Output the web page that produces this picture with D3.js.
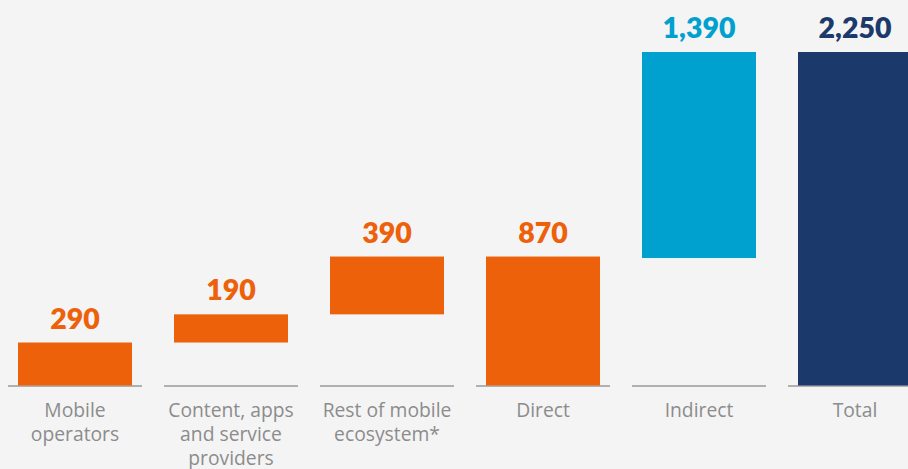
<!DOCTYPE html>
<html><head><meta charset="utf-8">
<script src="https://cdn.jsdelivr.net/npm/d3@7"></script>
<style>html,body{margin:0;padding:0;background:#f4f4f4;}svg{display:block;}</style>
</head><body>
<script>
const categories = [["Mobile","operators"],["Content, apps","and service","providers"],["Rest of mobile","ecosystem*"],["Direct"],["Indirect"],["Total"]];
const values = [290, 190, 390, 870, 1390, 2250];
const labels = ["290","190","390","870","1,390","2,250"];
const kinds = ["step","step","step","sum","step2","total"];
const colors = ["#ec610a","#ec610a","#ec610a","#ec610a","#00a0cf","#1b3a6b"];

const W = 908, H = 469;
const svg = d3.select("body").append("svg").attr("width", W).attr("height", H);
svg.append("rect").attr("width", W).attr("height", H).attr("fill", "#f4f4f4");

const bars = [];
let run = 0;
values.forEach((v, i) => {
  let y0, y1;
  if (kinds[i] === "step") { y0 = run; y1 = run + v; run = y1; }
  else if (kinds[i] === "sum") { y0 = 0; y1 = v; run = v; }
  else if (kinds[i] === "step2") { y1 = values[5]; y0 = values[5] - v; }
  else { y0 = 0; y1 = v; }
  bars.push({i, y0, y1});
});

const x = d3.scaleBand().domain(d3.range(categories.length)).range([-3, 933]).padding(0);
const y = d3.scaleLinear().domain([0, 2250]).range([385.5, 52]);
const bw = x.bandwidth();
const barW = 114, lineW = 134;

const g = svg.append("g");
g.selectAll("line.base").data(bars).enter().append("line")
  .attr("x1", d => x(d.i) + bw/2 - lineW/2)
  .attr("x2", d => x(d.i) + bw/2 + lineW/2)
  .attr("y1", y(0) + 0.5).attr("y2", y(0) + 0.5)
  .attr("stroke", "#9a9a9a").attr("stroke-width", 1.6);

g.selectAll("rect.bar").data(bars).enter().append("rect")
  .attr("x", d => x(d.i) + bw/2 - barW/2)
  .attr("width", barW)
  .attr("y", d => y(d.y1))
  .attr("height", d => y(d.y0) - y(d.y1))
  .attr("fill", d => colors[d.i]);

g.selectAll("text.val").data(bars).enter().append("text")
  .attr("x", d => x(d.i) + bw/2)
  .attr("y", d => y(d.y1) - 14)
  .attr("text-anchor", "middle")
  .attr("font-family", "Lato, sans-serif")
  .attr("font-weight", 800)
  .attr("font-size", 28.5)
  .attr("fill", d => colors[d.i])
  .text(d => labels[d.i]);

const cat = g.selectAll("text.cat").data(bars).enter().append("text")
  .attr("x", d => x(d.i) + bw/2)
  .attr("y", 417)
  .attr("text-anchor", "middle")
  .attr("font-family", "'Open Sans', sans-serif")
  .attr("font-size", 19.3)
  .attr("fill", "#8c8c8c");
cat.selectAll("tspan").data(d => categories[d.i].map(t => ({t, cx: x(d.i) + bw/2}))).enter().append("tspan")
  .attr("x", d => d.cx)
  .attr("dy", (d, j) => j === 0 ? 0 : 24)
  .text(d => d.t);
</script>
</body></html>
